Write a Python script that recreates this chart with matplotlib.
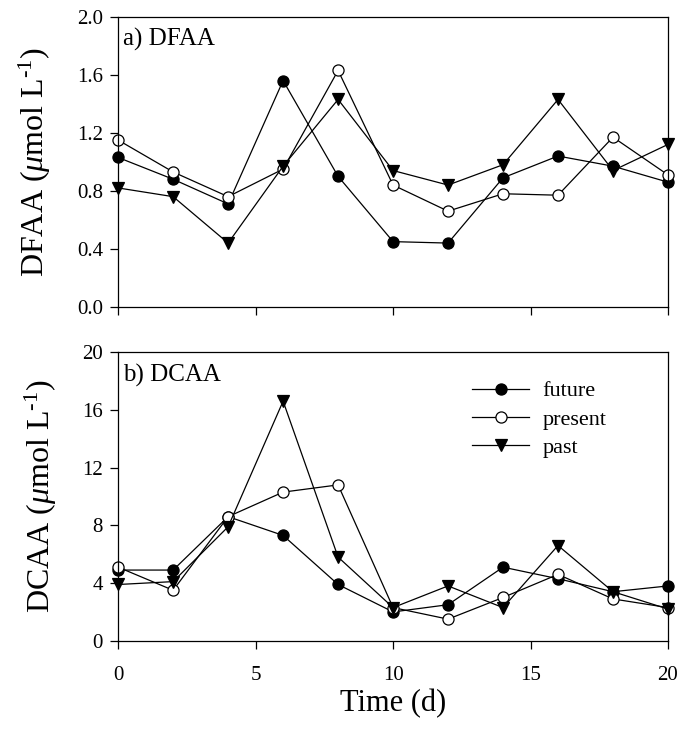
import matplotlib
matplotlib.use("Agg")
import matplotlib.pyplot as plt

plt.rcParams['font.family'] = ['Liberation Serif', 'DejaVu Serif']
plt.rcParams['mathtext.fontset'] = 'custom'
plt.rcParams['mathtext.rm'] = 'Liberation Serif'
plt.rcParams['mathtext.it'] = 'Liberation Serif:italic'

days = [0, 2, 4, 6, 8, 10, 12, 14, 16, 18, 20]

# a) DFAA (umol/L)
dfaa_future = [1.03, 0.88, 0.71, 1.56, 0.90, 0.45, 0.44, 0.89, 1.04, 0.97, 0.86]
dfaa_present = [1.15, 0.93, 0.76, 0.95, 1.63, 0.84, 0.66, 0.78, 0.77, 1.17, 0.91]
dfaa_past = [0.82, 0.76, 0.44, 0.97, 1.43, 0.94, 0.84, 0.98, 1.43, 0.94, 1.12]

# b) DCAA (umol/L)
dcaa_future = [4.9, 4.9, 8.6, 7.3, 3.9, 2.0, 2.5, 5.1, 4.3, 3.4, 3.8]
dcaa_present = [5.1, 3.5, 8.6, 10.3, 10.8, 2.3, 1.5, 3.0, 4.6, 2.9, 2.3]
dcaa_past = [3.9, 4.1, 7.9, 16.6, 5.8, 2.3, 3.8, 2.3, 6.6, 3.4, 2.2]

series = ["future", "present", "past"]
styles = {
    "future": dict(marker='o', markerfacecolor='black'),
    "present": dict(marker='o', markerfacecolor='white'),
    "past": dict(marker='v', markerfacecolor='black'),
}

fig = plt.figure(figsize=(6.83, 7.29), dpi=100)
ax1 = fig.add_axes([0.173, 0.579, 0.805, 0.398])
ax2 = fig.add_axes([0.173, 0.121, 0.805, 0.396])

def draw(ax, data, ylim, yticks, ylabel, panel, fmt):
    for name, vals in zip(series, data):
        ax.plot(days, vals, color='black', linewidth=0.9, markersize=8,
                markeredgecolor='black', markeredgewidth=0.9,
                label=name, clip_on=False, **styles[name])
    ax.set_xlim(0, 20)
    ax.set_ylim(*ylim)
    ax.set_xticks([0, 5, 10, 15, 20])
    ax.set_yticks(yticks)
    ax.set_yticklabels([fmt.format(t) for t in yticks])
    ax.tick_params(direction='out', length=6, width=0.9, labelsize=15,
                   top=False, right=False, pad=5)
    ax.tick_params(axis='x', pad=12)
    for s in ax.spines.values():
        s.set_linewidth(0.9)
    ax.set_ylabel(ylabel, fontsize=23, labelpad=17)
    ax.text(0.008, 0.96, panel, transform=ax.transAxes, fontsize=18,
            va='top', ha='left')

draw(ax1, [dfaa_future, dfaa_present, dfaa_past], (0, 2.0),
     [0.0, 0.4, 0.8, 1.2, 1.6, 2.0], r"DFAA ($\mathit{\mu}$mol L$^{\text{-1}}$)",
     "a) DFAA", "{:.1f}")
ax1.tick_params(labelbottom=False)

draw(ax2, [dcaa_future, dcaa_present, dcaa_past], (0, 20),
     [0, 4, 8, 12, 16, 20], r"DCAA ($\mathit{\mu}$mol L$^{\text{-1}}$)",
     "b) DCAA", "{:d}")
ax2.set_xlabel("Time (d)", fontsize=22, labelpad=3)
ax2.legend(loc='upper right', bbox_to_anchor=(0.925, 0.97), frameon=False,
           fontsize=16, handlelength=2.6, labelspacing=0.35, handletextpad=0.6)

fig.savefig("out.png", dpi=100)
